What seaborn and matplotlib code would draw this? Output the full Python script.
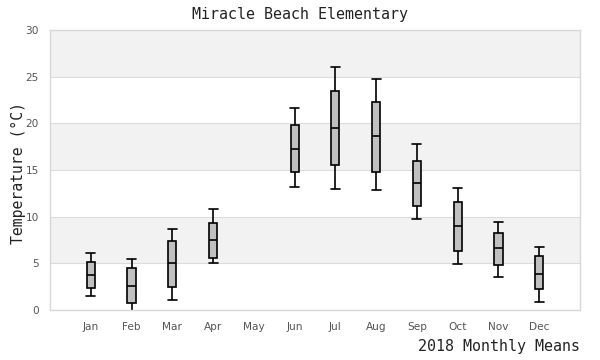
import numpy as np
import pandas as pd
import seaborn as sns
import matplotlib.pyplot as plt

months = ["Jan", "Feb", "Mar", "Apr", "May", "Jun",
          "Jul", "Aug", "Sep", "Oct", "Nov", "Dec"]
# five-number summaries (May has no data)
lows    = [1.5, -0.1, 1.1, 5.0, None, 13.2, 13.0, 12.9, 9.7, 4.9, 3.5, 0.9]
q1s     = [2.4, 0.8, 2.5, 5.6, None, 14.8, 15.5, 14.8, 11.1, 6.3, 4.8, 2.2]
medians = [3.7, 2.6, 5.0, 7.5, None, 17.2, 19.5, 18.6, 13.6, 9.0, 6.6, 3.9]
q3s     = [5.1, 4.5, 7.4, 9.3, None, 19.8, 23.5, 22.3, 16.0, 11.6, 8.3, 5.8]
highs   = [6.1, 5.5, 8.7, 10.8, None, 21.6, 26.0, 24.7, 17.8, 13.1, 9.4, 6.7]

rows = []
for i, m in enumerate(months):
    for v in (lows[i], q1s[i], medians[i], q3s[i], highs[i]):
        if v is not None:
            rows.append({"month": m, "temp": v})
df = pd.DataFrame(rows)

sns.set_style("white")
mono = ["DejaVu Sans Mono"]

fig = plt.figure(figsize=(6, 3.6), dpi=100)
ax = fig.add_axes([50 / 600, 1 - 310 / 360, 530 / 600, 280 / 360])

# alternating bands
for lo in (5, 15, 25):
    ax.axhspan(lo, lo + 5, color="#f2f2f2", zorder=0, lw=0)
for y in range(5, 30, 5):
    ax.axhline(y, color="#dcdcdc", lw=0.8, zorder=0.5)

sns.boxplot(data=df, x="month", y="temp", order=months, ax=ax,
            whis=np.inf, width=0.2, color="#c0c0c0", saturation=1,
            linecolor="black", linewidth=1.2, capwidths=0.22,
            zorder=2)

ax.set_xlim(-1, 12)
ax.set_ylim(0, 30)
ax.set_yticks(range(0, 31, 5))
ax.set_xlabel("")
ax.set_ylabel("Temperature (°C)", family=mono, fontsize=10.6, color="#222222")
ax.yaxis.set_label_coords(-24 / 530, 0.49)
ax.tick_params(axis="both", length=0, labelsize=7.6, labelcolor="#555555")
ax.tick_params(axis="x", pad=9)
ax.tick_params(axis="y", pad=8)
for s in ax.spines.values():
    s.set_color("#d8d8d8")
    s.set_linewidth(1)

fig.text(0.5, 1 - 14 / 360, "Miracle Beach Elementary", family=mono,
         fontsize=10.8, ha="center", va="center", color="#222222")
fig.text(580 / 600, 1 - 347 / 360, "2018 Monthly Means", family=mono,
         fontsize=10.8, ha="right", va="center", color="#222222")

fig.savefig("out.png", dpi=100)
